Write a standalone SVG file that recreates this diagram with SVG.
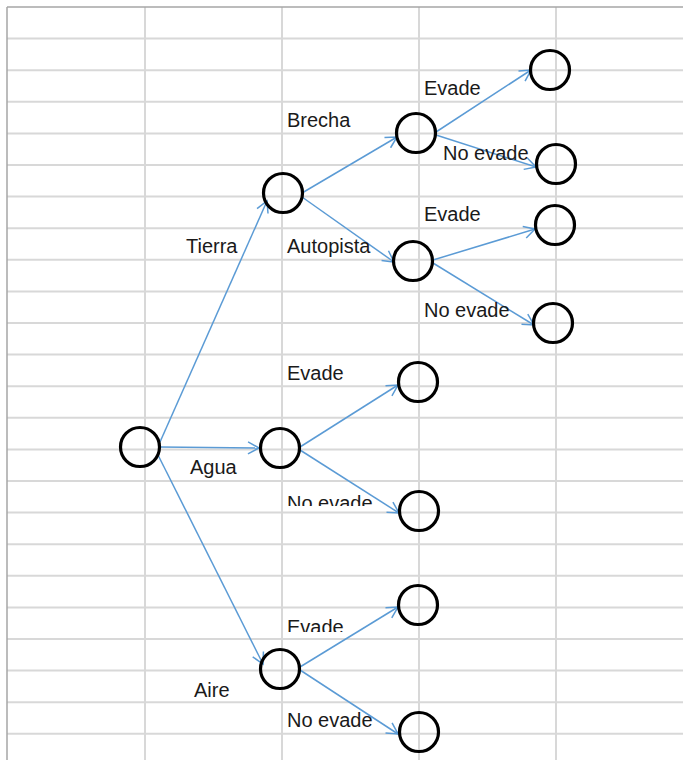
<svg xmlns="http://www.w3.org/2000/svg" width="683" height="760" viewBox="0 0 683 760">
  <style>
    .grid line { stroke: #d8d8d8; stroke-width: 2; }
    .border { stroke: #a6a6a6; stroke-width: 1.5; }
    .node circle { fill: none; stroke: #000; stroke-width: 3.2; }
    .edges line { stroke: #5b9bd5; stroke-width: 1.5; marker-end: url(#head); }
    text { font-family: "Liberation Sans", Arial, sans-serif; font-size: 20px; fill: #1a1a1a; }
  </style>
  <defs>
    <marker id="head" markerUnits="userSpaceOnUse" markerWidth="14" markerHeight="14" viewBox="-12 -7 14 14" refX="0" refY="0" orient="auto">
      <path d="M-11,-6 L0,0 L-11,6" fill="none" stroke="#5b9bd5" stroke-width="1.5"/>
    </marker>
    <clipPath id="clipAguaNo"><rect x="280" y="480" width="120" height="26"/></clipPath>
    <clipPath id="clipAireEv"><rect x="280" y="600" width="120" height="32"/></clipPath>
  </defs>

  <rect width="683" height="760" fill="#fff"/>

  <!-- spreadsheet cell grid -->
  <g class="grid">
    <line x1="145" y1="7" x2="145" y2="760"/>
    <line x1="282" y1="7" x2="282" y2="760"/>
    <line x1="419" y1="7" x2="419" y2="760"/>
    <line x1="556" y1="7" x2="556" y2="760"/>
    <line x1="7" y1="38.6" x2="683" y2="38.6"/>
    <line x1="7" y1="70.2" x2="683" y2="70.2"/>
    <line x1="7" y1="101.8" x2="683" y2="101.8"/>
    <line x1="7" y1="133.4" x2="683" y2="133.4"/>
    <line x1="7" y1="165" x2="683" y2="165"/>
    <line x1="7" y1="196.6" x2="683" y2="196.6"/>
    <line x1="7" y1="228.2" x2="683" y2="228.2"/>
    <line x1="7" y1="259.8" x2="683" y2="259.8"/>
    <line x1="7" y1="291.4" x2="683" y2="291.4"/>
    <line x1="7" y1="323" x2="683" y2="323"/>
    <line x1="7" y1="354.6" x2="683" y2="354.6"/>
    <line x1="7" y1="386.2" x2="683" y2="386.2"/>
    <line x1="7" y1="417.8" x2="683" y2="417.8"/>
    <line x1="7" y1="449.4" x2="683" y2="449.4"/>
    <line x1="7" y1="481" x2="683" y2="481"/>
    <line x1="7" y1="512.6" x2="683" y2="512.6"/>
    <line x1="7" y1="544.2" x2="683" y2="544.2"/>
    <line x1="7" y1="575.8" x2="683" y2="575.8"/>
    <line x1="7" y1="607.4" x2="683" y2="607.4"/>
    <line x1="7" y1="639" x2="683" y2="639"/>
    <line x1="7" y1="670.6" x2="683" y2="670.6"/>
    <line x1="7" y1="702.2" x2="683" y2="702.2"/>
    <line x1="7" y1="733.8" x2="683" y2="733.8"/>
  </g>
  <line class="border" x1="7" y1="7" x2="683" y2="7"/>
  <line class="border" x1="7" y1="7" x2="7" y2="760"/>

  <!-- connectors -->
  <g class="edges">
    <line x1="160" y1="442" x2="267" y2="201"/>
    <line x1="160" y1="447" x2="259" y2="448"/>
    <line x1="158" y1="455" x2="263" y2="664"/>
    <line x1="302" y1="193" x2="397" y2="137"/>
    <line x1="302" y1="197" x2="394" y2="262"/>
    <line x1="436" y1="132" x2="531" y2="70"/>
    <line x1="436" y1="135" x2="536" y2="167"/>
    <line x1="433" y1="260" x2="535" y2="229"/>
    <line x1="433" y1="263" x2="534" y2="325"/>
    <line x1="300" y1="447" x2="398" y2="385"/>
    <line x1="300" y1="450" x2="399" y2="513"/>
    <line x1="300" y1="667" x2="398" y2="607"/>
    <line x1="300" y1="670" x2="398" y2="734"/>
  </g>

  <!-- nodes -->
  <g id="root" class="node"><circle cx="140" cy="447" r="19.5"/></g>
  <g id="tierra" class="node"><circle cx="283" cy="193" r="19.5"/></g>
  <g id="brecha" class="node"><circle cx="416" cy="133" r="19.5"/></g>
  <g id="brecha-evade" class="node"><circle cx="550" cy="70" r="19.5"/></g>
  <g id="brecha-noevade" class="node"><circle cx="556" cy="164" r="19.5"/></g>
  <g id="autopista" class="node"><circle cx="413" cy="261" r="19.5"/></g>
  <g id="autopista-evade" class="node"><circle cx="555" cy="225" r="19.5"/></g>
  <g id="autopista-noevade" class="node"><circle cx="553" cy="323" r="19.5"/></g>
  <g id="agua" class="node"><circle cx="280" cy="448" r="19.5"/></g>
  <g id="agua-evade" class="node"><circle cx="418" cy="382" r="19.5"/></g>
  <g id="agua-noevade" class="node"><circle cx="419" cy="511" r="19.5"/></g>
  <g id="aire" class="node"><circle cx="280" cy="669" r="19.5"/></g>
  <g id="aire-evade" class="node"><circle cx="418" cy="605" r="19.5"/></g>
  <g id="aire-noevade" class="node"><circle cx="419" cy="732" r="19.5"/></g>

  <!-- branch labels -->
  <g id="labels">
    <text x="424" y="95">Evade</text>
    <text x="287" y="127">Brecha</text>
    <text x="443" y="160">No evade</text>
    <text x="424" y="221">Evade</text>
    <text x="186" y="253">Tierra</text>
    <text x="287" y="253">Autopista</text>
    <text x="424" y="317">No evade</text>
    <text x="287" y="380">Evade</text>
    <text x="190" y="474">Agua</text>
    <text x="287" y="510" clip-path="url(#clipAguaNo)">No evade</text>
    <text x="287" y="634" clip-path="url(#clipAireEv)">Evade</text>
    <text x="194" y="697">Aire</text>
    <text x="287" y="727">No evade</text>
  </g>
</svg>
